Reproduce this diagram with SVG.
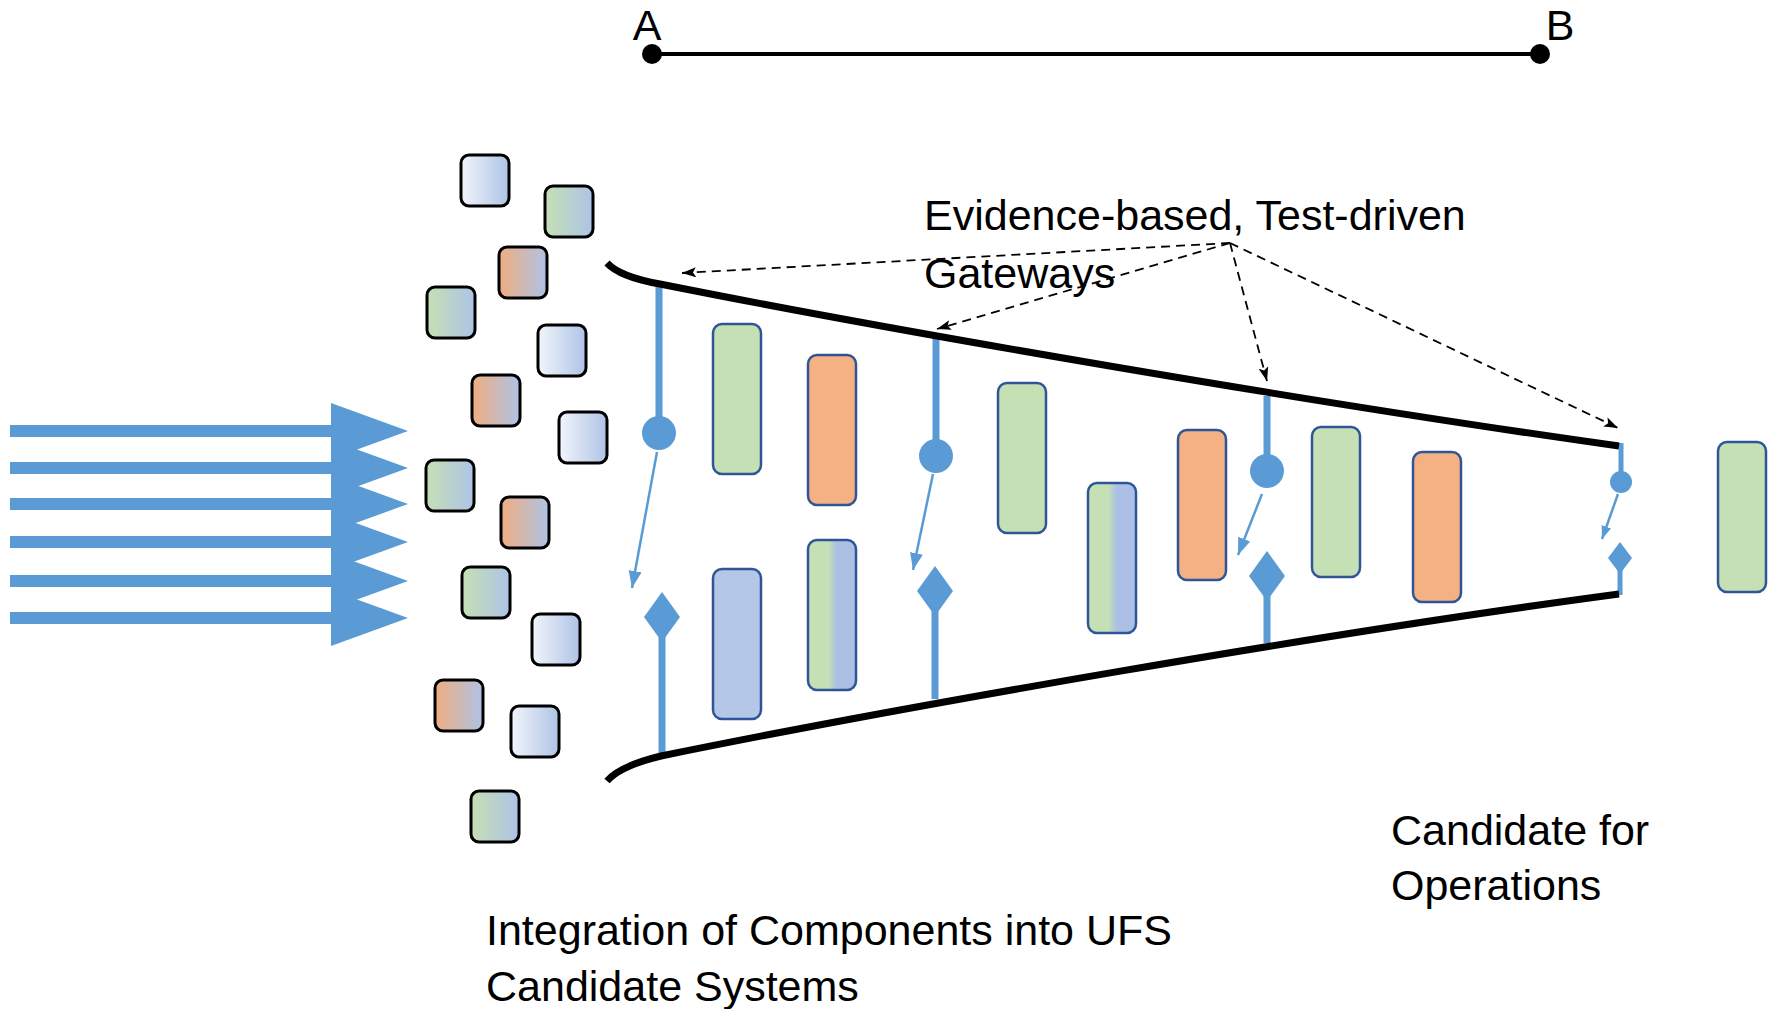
<svg xmlns="http://www.w3.org/2000/svg" width="1778" height="1009" viewBox="0 0 1778 1009">
<style>
text{font-family:"Liberation Sans",Arial,sans-serif;font-size:43px;fill:#000}
.sq{stroke:#000;stroke-width:3}
.tall{stroke:#2F5597;stroke-width:2.5}
.gate{stroke:#5B9BD5;stroke-width:7;fill:none}
.gate4{stroke:#5B9BD5;stroke-width:5;fill:none}
.blue{fill:#5B9BD5}
.thin{stroke:#5B9BD5;stroke-width:2.5;fill:none}
.dash{stroke:#000;stroke-width:1.8;stroke-dasharray:9 6;fill:none;marker-end:url(#dh)}
.funnel{stroke:#000;stroke-width:7;fill:none}
</style>
<defs>
<linearGradient id="wb" x1="0" y1="0" x2="1" y2="0"><stop offset="0" stop-color="#F2F5FB"/><stop offset="1" stop-color="#AEC3E6"/></linearGradient>
<linearGradient id="gbs" x1="0" y1="0" x2="1" y2="0"><stop offset="0" stop-color="#C5E0B4"/><stop offset="1" stop-color="#AEC3E6"/></linearGradient>
<linearGradient id="obs" x1="0" y1="0" x2="1" y2="0"><stop offset="0" stop-color="#F0AD80"/><stop offset="1" stop-color="#AEC3E6"/></linearGradient>
<linearGradient id="gbt" x1="0" y1="0" x2="1" y2="0"><stop offset="0" stop-color="#C5E0B4"/><stop offset="0.42" stop-color="#C5E0B4"/><stop offset="0.6" stop-color="#ABC0E4"/><stop offset="1" stop-color="#ABC0E4"/></linearGradient>
<marker id="dh" markerUnits="userSpaceOnUse" markerWidth="16" markerHeight="12" refX="14" refY="5" orient="auto"><path d="M0,0 L14,5 L0,10 L3,5 Z" fill="#000"/></marker>
<marker id="bh" markerUnits="userSpaceOnUse" markerWidth="18" markerHeight="14" refX="17" refY="6.5" orient="auto"><path d="M0,0 L17,6.5 L0,13 Z" fill="#5B9BD5"/></marker>
<marker id="bh2" markerUnits="userSpaceOnUse" markerWidth="14" markerHeight="12" refX="13" refY="5" orient="auto"><path d="M0,0 L13,5 L0,10 Z" fill="#5B9BD5"/></marker>
</defs>
<rect width="1778" height="1009" fill="#fff"/>

<g id="scale-AB">
<line x1="652" y1="54" x2="1540" y2="54" stroke="#000" stroke-width="4"/>
<circle cx="652" cy="54" r="10"/>
<circle cx="1540" cy="54" r="10"/>
<text x="647" y="40" text-anchor="middle">A</text>
<text x="1560" y="40" text-anchor="middle">B</text>
</g>

<g id="input-arrows" class="blue">
<rect x="10" y="425" width="322" height="12"/>
<rect x="10" y="462" width="322" height="12"/>
<rect x="10" y="498" width="322" height="12"/>
<rect x="10" y="536" width="322" height="12"/>
<rect x="10" y="575" width="322" height="12"/>
<rect x="10" y="612" width="322" height="12"/>
<path d="M331,403 L408,431 L331,459 Z M331,440 L408,468 L331,496 Z M331,476 L408,504 L331,532 Z M331,514 L408,542 L331,570 Z M331,553 L408,581 L331,609 Z M331,590 L408,618 L331,646 Z"/>
</g>

<g id="components">
<rect class="sq" x="461" y="155" width="48" height="51" rx="8" fill="url(#wb)"/>
<rect class="sq" x="545" y="186" width="48" height="51" rx="8" fill="url(#gbs)"/>
<rect class="sq" x="499" y="247" width="48" height="51" rx="8" fill="url(#obs)"/>
<rect class="sq" x="427" y="287" width="48" height="51" rx="8" fill="url(#gbs)"/>
<rect class="sq" x="538" y="325" width="48" height="51" rx="8" fill="url(#wb)"/>
<rect class="sq" x="472" y="375" width="48" height="51" rx="8" fill="url(#obs)"/>
<rect class="sq" x="559" y="412" width="48" height="51" rx="8" fill="url(#wb)"/>
<rect class="sq" x="426" y="460" width="48" height="51" rx="8" fill="url(#gbs)"/>
<rect class="sq" x="501" y="497" width="48" height="51" rx="8" fill="url(#obs)"/>
<rect class="sq" x="462" y="567" width="48" height="51" rx="8" fill="url(#gbs)"/>
<rect class="sq" x="532" y="614" width="48" height="51" rx="8" fill="url(#wb)"/>
<rect class="sq" x="435" y="680" width="48" height="51" rx="8" fill="url(#obs)"/>
<rect class="sq" x="511" y="706" width="48" height="51" rx="8" fill="url(#wb)"/>
<rect class="sq" x="471" y="791" width="48" height="51" rx="8" fill="url(#gbs)"/>
</g>

<g id="systems">
<rect class="tall" x="713" y="324" width="48" height="150" rx="9" fill="#C5E0B4"/>
<rect class="tall" x="713" y="569" width="48" height="150" rx="9" fill="#B4C7E7"/>
<rect class="tall" x="808" y="355" width="48" height="150" rx="9" fill="#F4B183"/>
<rect class="tall" x="808" y="540" width="48" height="150" rx="9" fill="url(#gbt)"/>
<rect class="tall" x="998" y="383" width="48" height="150" rx="9" fill="#C5E0B4"/>
<rect class="tall" x="1088" y="483" width="48" height="150" rx="9" fill="url(#gbt)"/>
<rect class="tall" x="1178" y="430" width="48" height="150" rx="9" fill="#F4B183"/>
<rect class="tall" x="1312" y="427" width="48" height="150" rx="9" fill="#C5E0B4"/>
<rect class="tall" x="1413" y="452" width="48" height="150" rx="9" fill="#F4B183"/>
</g>
<g id="candidate-system">
<rect class="tall" x="1718" y="442" width="48" height="150" rx="9" fill="#C5E0B4"/>
</g>

<g id="gate1">
<line class="gate" x1="659" y1="283" x2="659" y2="433"/>
<circle class="blue" cx="659" cy="433" r="17"/>
<path class="blue" d="M662,592 L680,617 L662,642 L644,617 Z"/>
<line class="gate" x1="662" y1="620" x2="662" y2="756"/>
</g>
<g id="gate2">
<line class="gate" x1="936" y1="337" x2="936" y2="456"/>
<circle class="blue" cx="936" cy="456" r="17"/>
<path class="blue" d="M935,566 L953,591 L935,616 L917,591 Z"/>
<line class="gate" x1="935" y1="594" x2="935" y2="699"/>
</g>
<g id="gate3">
<line class="gate" x1="1267" y1="396" x2="1267" y2="471"/>
<circle class="blue" cx="1267" cy="471" r="17"/>
<path class="blue" d="M1267,551 L1285,576 L1267,601 L1249,576 Z"/>
<line class="gate" x1="1267" y1="580" x2="1267" y2="643"/>
</g>
<g id="gate4">
<line class="gate4" x1="1621" y1="443" x2="1621" y2="482"/>
<circle class="blue" cx="1621" cy="482" r="11"/>
<path class="blue" d="M1620,542 L1632,558 L1620,574 L1608,558 Z"/>
<line class="gate4" x1="1620" y1="560" x2="1620" y2="595"/>
</g>

<g id="funnel">
<path class="funnel" d="M607,263 Q620,277 660,284 C900,332 1319,404 1619,446"/>
<path class="funnel" d="M607,781 Q620,766 661,756 C901,707 1319,634 1619,594"/>
</g>

<g id="connectors">
<line class="thin" x1="657" y1="452" x2="632" y2="588" marker-end="url(#bh)"/>
<line class="thin" x1="933" y1="474" x2="913" y2="570" marker-end="url(#bh)"/>
<line class="thin" x1="1262" y1="494" x2="1238" y2="555" marker-end="url(#bh)"/>
<line class="thin" x1="1618" y1="494" x2="1602" y2="539" marker-end="url(#bh2)"/>
<line class="dash" x1="1230" y1="243" x2="682" y2="273"/>
<line class="dash" x1="1230" y1="243" x2="937" y2="329"/>
<line class="dash" x1="1230" y1="243" x2="1267" y2="381"/>
<line class="dash" x1="1230" y1="243" x2="1618" y2="428"/>
</g>

<g id="labels">
<text x="924" y="230">Evidence-based, Test-driven</text>
<text x="924" y="288">Gateways</text>
<text x="1391" y="845">Candidate for</text>
<text x="1391" y="900">Operations</text>
<text x="486" y="945">Integration of Components into UFS</text>
<text x="486" y="1001">Candidate Systems</text>
</g>
</svg>
